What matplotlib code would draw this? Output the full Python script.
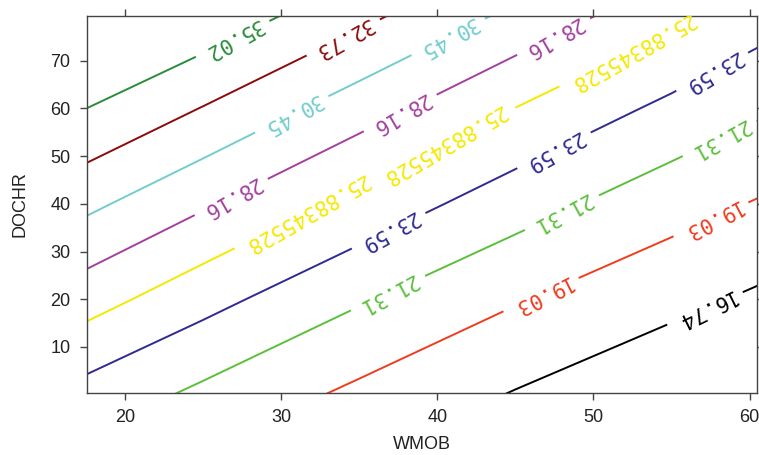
import numpy as np
import matplotlib
matplotlib.use("Agg")
import matplotlib.pyplot as plt

# grid of the surface
wmob = [15, 25, 35, 45, 55, 65]
dochr = [0, 20, 40, 60, 80]
z_grid = [
    [23.52, 20.80, 18.53, 16.60, 14.91, 13.34],
    [27.72, 24.37, 21.54, 19.21, 17.34, 15.64],
    [31.83, 28.47, 25.15, 22.30, 19.94, 18.01],
    [35.83, 32.64, 29.24, 25.85, 23.02, 20.62],
    [40.04, 36.77, 33.47, 30.03, 26.61, 23.49],
]

levels = [16.74, 19.03, 21.31, 23.59, 25.88345528, 28.16, 30.45, 32.73, 35.02]
level_text = ["16.74", "19.03", "21.31", "23.59", "25.88345528",
              "28.16", "30.45", "32.73", "35.02"]
level_colors = ["#000000", "#f03c1e", "#5cbf3c", "#2e2a92", "#f5e900",
                "#a3409f", "#72cdcd", "#8b0a0a", "#2a8c3a"]

# where the labels sit
label_pos = [
    (57.1, 18.3),
    (46.6, 21.2), (57.4, 37.4),
    (36.8, 21.5), (47.9, 38.6), (58.0, 54.1),
    (36.8, 34.8), (47.4, 51.6), (57.6, 67.7),
    (31.6, 38.3), (40.4, 52.7), (52.4, 72.2),
    (26.8, 41.5), (37.6, 59.2), (47.4, 75.3),
    (30.7, 58.7), (40.7, 75.0),
    (34.0, 74.8),
    (26.9, 74.6),
]

plt.rcParams["font.family"] = ["Liberation Sans", "DejaVu Sans"]

fig, ax = plt.subplots(figsize=(7.59, 4.55), dpi=100)
fig.subplots_adjust(left=0.115, right=0.997, top=0.965, bottom=0.137)

X, Y = np.meshgrid(wmob, dochr)
cs = ax.contour(X, Y, np.array(z_grid), levels=levels, colors=level_colors,
                linewidths=1.4)
labels = ax.clabel(cs, fmt=dict(zip(levels, level_text)), manual=label_pos,
                   inline=True, inline_spacing=10, fontsize=15)
# labels are drawn upside down in the original
for t in labels:
    t.set_family("DejaVu Sans Mono")
    screen_angle = t.get_rotation()
    t.set_transform_rotates_text(False)
    t.set_rotation(screen_angle + 180)

ax.set_xlim(17.6, 60.45)
ax.set_ylim(0.4, 79.4)
ax.set_xticks([20, 30, 40, 50, 60])
ax.set_yticks([10, 20, 30, 40, 50, 60, 70])
ax.tick_params(direction="out", length=5, width=1, color="#444444",
               labelsize=13, labelcolor="#222222", pad=7,
               top=True, right=True)
for s in ax.spines.values():
    s.set_color("#444444")
    s.set_linewidth(1)
ax.set_xlabel("WMOB", fontsize=13, color="#222222", labelpad=7)
ax.set_ylabel("DOCHR", fontsize=13, color="#222222", labelpad=16)

plt.savefig("out.png", dpi=100)
